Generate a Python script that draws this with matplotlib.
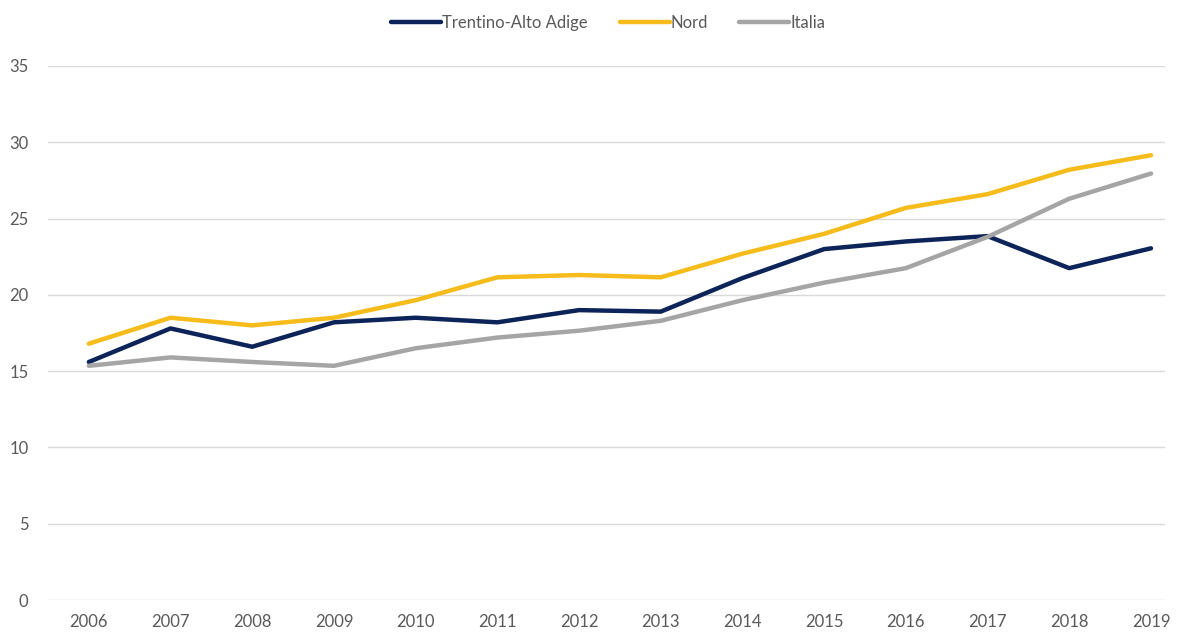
#!/usr/bin/env python3

import matplotlib
matplotlib.use("Agg")
import matplotlib.pyplot as plt

years = ["2006", "2007", "2008", "2009", "2010", "2011", "2012",
         "2013", "2014", "2015", "2016", "2017", "2018", "2019"]
trentino = [15.6, 17.8, 16.6, 18.2, 18.5, 18.2, 19.0,
            18.9, 21.1, 23.0, 23.5, 23.85, 21.75, 23.05]
nord = [16.8, 18.5, 18.0, 18.5, 19.65, 21.15, 21.3,
        21.15, 22.7, 24.0, 25.7, 26.6, 28.2, 29.15]
italia = [15.35, 15.9, 15.6, 15.35, 16.5, 17.2, 17.65,
          18.3, 19.65, 20.8, 21.75, 23.8, 26.3, 27.95]
yticks = [0, 5, 10, 15, 20, 25, 30, 35]

plt.rcParams["font.family"] = ["Lato", "DejaVu Sans"]

fig = plt.figure(figsize=(11.79, 6.32), dpi=100)
ax = fig.add_axes([0.0407, 0.0506, 0.9473, 0.845])

xs = list(range(len(years)))
ax.plot(xs, trentino, color="#0C2459", lw=3.2, label="Trentino-Alto Adige",
        solid_capstyle="round", solid_joinstyle="round")
ax.plot(xs, nord, color="#F5BC1C", lw=3.2, label="Nord",
        solid_capstyle="round", solid_joinstyle="round")
ax.plot(xs, italia, color="#A5A5A5", lw=3.2, label="Italia",
        solid_capstyle="round", solid_joinstyle="round")

ax.set_xlim(-0.5, 13.17)
ax.set_ylim(0, 35)
ax.set_xticks(xs)
ax.set_xticklabels(years)
ax.set_yticks(yticks)
ax.grid(axis="y", color="#D9D9D9", lw=1)
ax.set_axisbelow(True)
for s in ax.spines.values():
    s.set_visible(False)
ax.tick_params(axis="both", length=0, labelsize=12, colors="#595959")
ax.tick_params(axis="y", pad=14)
ax.tick_params(axis="x", pad=10)

fig.legend(loc="upper center", bbox_to_anchor=(0.516, 1.0), ncol=3,
           frameon=False, fontsize=12, handlelength=3.0, handletextpad=0.05,
           columnspacing=1.9, labelcolor="#595959")

fig.savefig("out.png", dpi=100)
